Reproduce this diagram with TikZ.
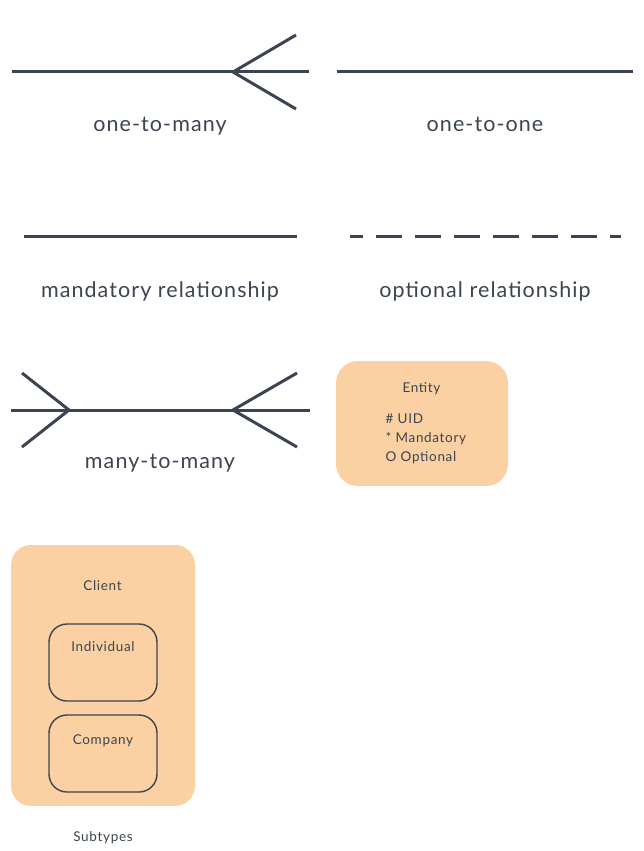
\documentclass[tikz,border=0pt]{standalone}
\usepackage{fontspec}
\setmainfont{Lato}[LetterSpace=5]
\usepackage{tikz}
\usetikzlibrary{positioning}

\definecolor{ink}{HTML}{3B4450}
\definecolor{peach}{HTML}{FBD0A3}

\begin{document}
\begin{tikzpicture}[x=1pt, y=-1pt, thick,
  rel/.style = {draw=ink, line width=3pt},
  label/.style = {text=ink, anchor=base, font=\fontsize{21.5}{26}\selectfont},
  small/.style = {text=ink, anchor=base, font=\fontsize{13.5}{16}\selectfont},
  entitybox/.style = {fill=peach, draw=none, rounded corners=22pt},
  subbox/.style = {draw=ink, line width=1.4pt, rounded corners=18pt}]

\useasboundingbox (0,0) rectangle (643,851);

% one-to-many
\coordinate (a1) at (12,72);
\coordinate (a2) at (309,72);
\coordinate (af) at (233,72);
\coordinate (au) at (296,35);
\coordinate (ad) at (296,109);
\draw[rel] (a1) -- (a2);
\draw[rel] (au) -- (af) -- (ad);
\node[label] (onemany) at (160,131) {one-to-many};

% one-to-one
\coordinate (b1) at (337,72);
\coordinate (b2) at (633,72);
\draw[rel] (b1) -- (b2);
\node[label] (oneone) at (485,131) {one-to-one};

% mandatory and optional
\coordinate (c1) at (24,236);
\coordinate (c2) at (297,236);
\draw[rel] (c1) -- (c2);
\node[label] (mand) at (160,297) {mandatory relationship};

\coordinate (d1) at (350,236);
\coordinate (d2) at (621,236);
\draw[rel, dash pattern=on 26pt off 13pt, dash phase=13pt] (d1) -- (d2);
\node[label] (opt) at (485,297) {optional relationship};

% many-to-many
\coordinate (e1) at (11,410);
\coordinate (e2) at (310,410);
\coordinate (el) at (69,410);
\coordinate (elu) at (22,373);
\coordinate (eld) at (22,447);
\coordinate (er) at (233,410);
\coordinate (eru) at (297,373);
\coordinate (erd) at (297,447);
\draw[rel] (e1) -- (e2);
\draw[rel] (elu) -- (el) -- (eld);
\draw[rel] (eru) -- (er) -- (erd);
\node[label] (manymany) at (160,468) {many-to-many};

% entity
\path[entitybox] (336,361) rectangle (508,486);
\node[small] (entity) at (421.5,392) {Entity};
\node[small, anchor=base west] (uid) at (382,423) {\# UID};
\node[small, anchor=base west] (mandatory) at (382,442) {* Mandatory};
\node[small, anchor=base west] (optional) at (382,461) {O Optional};

% subtypes
\path[entitybox, rounded corners=20pt] (11,545) rectangle (195,806);
\node[small] (client) at (102.5,590) {Client};
\draw[subbox] (49,624) rectangle (157,701);
\node[small] (individual) at (103,651.5) {Individual};
\draw[subbox] (49,715) rectangle (157,792);
\node[small] (company) at (103,744) {Company};
\node[small] (subtypes) at (103,841.5) {Subtypes};

\end{tikzpicture}
\end{document}
